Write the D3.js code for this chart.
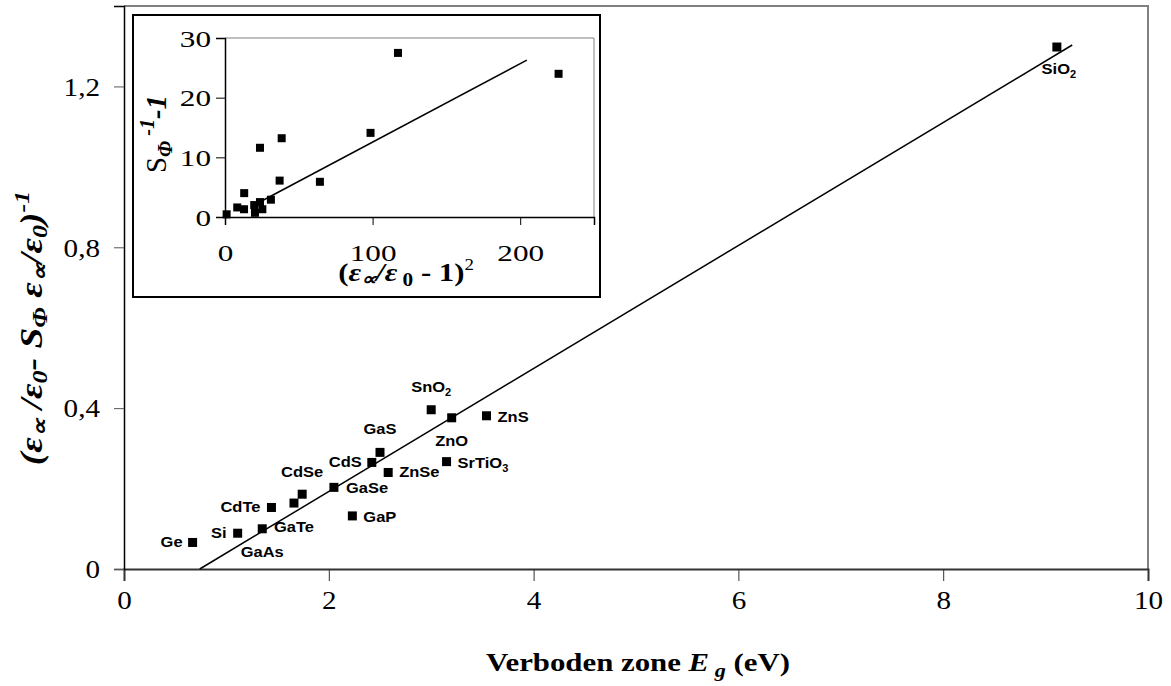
<!DOCTYPE html>
<html>
<head>
<meta charset="utf-8">
<script src="https://cdn.jsdelivr.net/npm/d3@7"></script>
<style>
  body { margin: 0; background: #fff; }
  svg { display: block; }
</style>
</head>
<body>
<script>
// main chart data: band gap (eV) vs fitted value
const materials = ["Ge","Si","GaAs","CdTe","GaTe","CdSe","GaSe","GaP","CdS","GaS","ZnSe","SnO2","SrTiO3","ZnO","ZnS","SiO2"];
const bandGap = [0.67,1.11,1.35,1.44,1.66,1.74,2.05,2.23,2.42,2.50,2.58,3.00,3.15,3.20,3.54,9.11];
const yValue  = [0.066,0.089,0.100,0.153,0.164,0.186,0.203,0.132,0.265,0.290,0.240,0.396,0.267,0.376,0.381,1.298];
const fitEg  = [0.74, 9.26];
const fitVal = [0, 1.303];
const xTicks = [0, 2, 4, 6, 8, 10];
const yTicks = [0, 0.4, 0.8, 1.2];

// inset data
const insetX = [1.1, 8.3, 12.9, 13.0, 19.8, 20.3, 23.7, 25.3, 23.7, 31.1, 38.4, 37.0, 64.3, 98.6, 117.2, 226];
const insetY = [0.45, 1.6, 1.3, 4.0, 2.0, 0.7, 2.5, 1.3, 11.6, 2.9, 13.2, 6.1, 5.9, 14.1, 27.5, 24.0];
const insetFitX = [22, 204.5];
const insetFitY = [2.3, 26.3];
const insetXTicks = [0, 100, 200];
const insetYTicks = [0, 10, 20, 30];

// label placement relative to marker: [dx, dy, anchor]
const labelPos = {
  Ge: [-10, 5, "end"], Si: [-11, 5, "end"], GaAs: [0, 28, "middle"], CdTe: [-11, 5, "end"],
  GaTe: [-20, 29, "start"], CdSe: [0, -17, "middle"], GaSe: [12, 6, "start"], GaP: [11, 6, "start"],
  CdS: [-10, 5, "end"], GaS: [0, -18, "middle"], ZnSe: [11, 5, "start"], SnO2: [0, -18, "middle"],
  SrTiO3: [11, 6, "start"], ZnO: [0, 28, "middle"], ZnS: [11, 6, "start"], SiO2: [2, 27, "middle"]
};

const W = 1171, H = 686;
const serif = "'Liberation Serif', 'Times New Roman', serif";
const sans = "'Liberation Sans', Arial, sans-serif";
const svg = d3.select("body").append("svg").attr("width", W).attr("height", H);

// stretch a text horizontally (the original picture is a bit wide)
function styleTicks(axisG, size, sx, side) {
  axisG.selectAll(".tick text").each(function() {
    const t = d3.select(this)
      .attr("font-family", serif).attr("font-size", size).attr("fill", "#000");
    if (side === "left") t.attr("x", +t.attr("x") / sx);
    t.attr("transform", `scale(${sx},1)`);
  });
}
// scale a text so that its length matches the picture
function fitText(sel, cx, cy, len, rot, sy) {
  const w = sel.node().getBBox().width;
  sel.attr("transform", `translate(${cx},${cy})${rot ? " rotate(-90)" : ""} scale(${len / w},${sy})`);
}

const x = d3.scaleLinear().domain([0, 10]).range([124, 1148]);
const y = d3.scaleLinear().domain([0, 1.4]).range([569, 6]);

// plot frame (top/right)
svg.append("path")
  .attr("d", `M${x(0)},${y(1.4)}H${x(10)}V${y(0)}`)
  .attr("fill", "none").attr("stroke", "#808080").attr("stroke-width", 2);

const xAxis = svg.append("g").attr("transform", `translate(0,${y(0)})`)
  .call(d3.axisBottom(x).tickValues(xTicks).tickSize(12).tickPadding(10).tickFormat(d3.format("d")));
xAxis.select(".domain").attr("stroke", "#333").attr("stroke-width", 2);
xAxis.selectAll(".tick line").attr("stroke", "#333");
styleTicks(xAxis, 26, 1.12);

const fmtComma = d => d === 0 ? "0" : d3.format(".1f")(d).replace(".", ",");
const yAxis = svg.append("g").attr("transform", `translate(${x(0)},0)`)
  .call(d3.axisLeft(y).tickValues(yTicks).tickSize(10).tickPadding(14).tickFormat(fmtComma));
yAxis.select(".domain").attr("stroke", "#000").attr("stroke-width", 1.5);
yAxis.selectAll(".tick line").attr("stroke", "#555");
yAxis.selectAll(".tick text").attr("dy", "0.34em");
styleTicks(yAxis, 26, 1.12, "left");

// fit line
svg.append("line")
  .attr("x1", x(fitEg[0])).attr("y1", y(fitVal[0]))
  .attr("x2", x(fitEg[1])).attr("y2", y(fitVal[1]))
  .attr("stroke", "#000").attr("stroke-width", 1.5);

// markers
svg.append("g").selectAll("rect").data(bandGap).join("rect")
  .attr("x", d => x(d) - 4.5).attr("y", (d, i) => y(yValue[i]) - 4.5)
  .attr("width", 9).attr("height", 9).attr("fill", "#000");

// point labels
const lbls = svg.append("g").selectAll("text").data(materials).join("text")
  .attr("font-family", sans).attr("font-weight", "bold").attr("font-size", 15)
  .attr("transform", (d, i) => `translate(${x(bandGap[i]) + labelPos[d][0]},${y(yValue[i]) + labelPos[d][1]}) scale(1.1,1)`)
  .attr("text-anchor", d => labelPos[d][2]);
lbls.each(function(d) {
  const t = d3.select(this);
  const m = d.match(/^(.*?)(\d)$/);
  if (m) {
    t.append("tspan").text(m[1]);
    t.append("tspan").attr("dy", 4).attr("font-size", 10).text(m[2]);
  } else {
    t.text(d);
  }
});

// axis titles
const xt = svg.append("text").attr("text-anchor", "middle")
  .attr("font-family", serif).attr("font-size", 25).attr("font-weight", "bold");
xt.append("tspan").text("Verboden zone ");
xt.append("tspan").attr("font-style", "italic").text("E");
xt.append("tspan").attr("font-style", "italic").attr("font-size", 18).attr("dy", 6).text(" g");
xt.append("tspan").attr("dy", -6).text("  (eV)");
fitText(xt, 638, 671, 304, false, 1);

const yt = svg.append("text").attr("text-anchor", "middle")
  .attr("font-family", serif).attr("font-size", 26).attr("font-weight", "bold").attr("font-style", "italic");
yt.append("tspan").text("(ε");
yt.append("tspan").attr("font-size", 18).attr("dy", 4).text("∝");
yt.append("tspan").attr("dy", -4).text(" /ε");
yt.append("tspan").attr("font-size", 18).attr("dy", 4).text("0");
yt.append("tspan").attr("dy", -4).text("- S");
yt.append("tspan").attr("font-size", 18).attr("dy", 4).text("Φ");
yt.append("tspan").attr("dy", -4).text("  ε");
yt.append("tspan").attr("font-size", 18).attr("dy", 4).text("∝");
yt.append("tspan").attr("dy", -4).text("/ε");
yt.append("tspan").attr("font-size", 18).attr("dy", 4).text("0");
yt.append("tspan").attr("dy", -4).text(")");
yt.append("tspan").attr("font-size", 18).attr("dy", -11).text("-1");
fitText(yt, 42, 328, 275, true, 1.2);

// ***** INSET *****
const inset = svg.append("g");
inset.append("rect").attr("x", 133).attr("y", 15).attr("width", 467).attr("height", 282)
  .attr("fill", "#fff").attr("stroke", "#000").attr("stroke-width", 2);

const ix = d3.scaleLinear().domain([0, 250]).range([225, 594]);
const iy = d3.scaleLinear().domain([0, 30]).range([217, 38]);

inset.append("path")
  .attr("d", `M${ix(0)},${iy(30)}H${ix(250)}V${iy(0)}`)
  .attr("fill", "none").attr("stroke", "#808080").attr("stroke-width", 1);

const ixAxis = inset.append("g").attr("transform", `translate(0,${iy(0)})`)
  .call(d3.axisBottom(ix).tickValues(insetXTicks).tickSize(8).tickPadding(19).tickFormat(d3.format("d")));
ixAxis.select(".domain").attr("stroke", "#000").attr("stroke-width", 1.5);
styleTicks(ixAxis, 24, 1.3);

const iyAxis = inset.append("g").attr("transform", `translate(${ix(0)},0)`)
  .call(d3.axisLeft(iy).tickValues(insetYTicks).tickSize(9).tickPadding(5).tickFormat(d3.format("d")));
iyAxis.select(".domain").attr("stroke", "#000").attr("stroke-width", 1.5);
iyAxis.selectAll(".tick text").attr("dy", "0.34em");
styleTicks(iyAxis, 24, 1.3, "left");

inset.append("line")
  .attr("x1", ix(insetFitX[0])).attr("y1", iy(insetFitY[0]))
  .attr("x2", ix(insetFitX[1])).attr("y2", iy(insetFitY[1]))
  .attr("stroke", "#000").attr("stroke-width", 1.5);

inset.append("g").selectAll("rect").data(insetX).join("rect")
  .attr("x", d => ix(d) - 4).attr("y", (d, i) => iy(insetY[i]) - 4)
  .attr("width", 8).attr("height", 8).attr("fill", "#000");

const ixt = inset.append("text").attr("text-anchor", "middle")
  .attr("font-family", serif).attr("font-size", 26).attr("font-weight", "bold");
ixt.append("tspan").text("(");
ixt.append("tspan").attr("font-style", "italic").text("ε");
ixt.append("tspan").attr("font-style", "italic").attr("font-size", 18).attr("dy", 4).text("∝");
ixt.append("tspan").attr("dy", -4).attr("font-style", "italic").text("/ε");
ixt.append("tspan").attr("font-size", 18).attr("dy", 5).text(" 0");
ixt.append("tspan").attr("dy", -5).text(" - 1)");
ixt.append("tspan").attr("font-size", 16).attr("font-weight", "normal").attr("dy", -11).text("2");
fitText(ixt, 406, 281, 136, false, 1);

const iyt = inset.append("text").attr("text-anchor", "middle")
  .attr("font-family", serif).attr("font-size", 24);
iyt.append("tspan").text("S");
iyt.append("tspan").attr("font-size", 17).attr("font-weight", "bold").attr("font-style", "italic").attr("dy", 5).text("Φ");
iyt.append("tspan").attr("font-size", 17).attr("font-weight", "bold").attr("font-style", "italic").attr("dy", -15).text(" -1");
iyt.append("tspan").attr("font-weight", "bold").attr("font-style", "italic").attr("dy", 10).text("-1");
fitText(iyt, 166, 134, 78, true, 1.25);
</script>
</body>
</html>
